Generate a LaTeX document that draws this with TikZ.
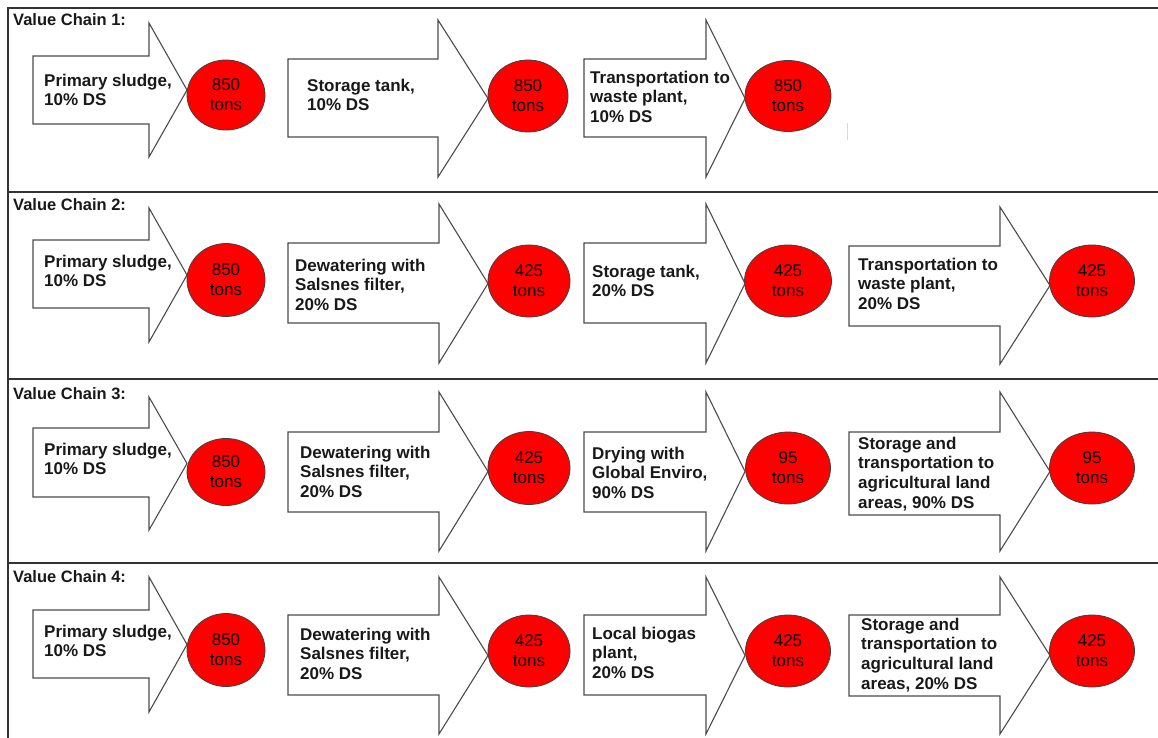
\documentclass[tikz,border=0pt]{standalone}
\usepackage{fontspec}
\setmainfont{Liberation Sans}
\usetikzlibrary{shapes.geometric}
% big outlined block arrow: x0, body top, body bottom, head x, head top, head bottom, tip x
\newcommand\flowarrow[7]{%
  \draw[arrowshape] (#1,#2) -- (#4,#2) -- (#4,#5) -- (#7,{(#5+#6)/2}) -- (#4,#6) -- (#4,#3) -- (#1,#3) -- cycle;}
\begin{document}
\begin{tikzpicture}[x=1pt,y=-1pt,
  frame/.style={line width=2pt, draw=black!80},
  arrowshape/.style={draw=black!70, line width=1.1pt, fill=white, line join=miter},
  lbl/.style={anchor=north west, inner sep=0pt, align=left, text=black!90,
    font=\bfseries\fontsize{17}{19.7}\selectfont},
  hdr/.style={anchor=base west, inner sep=0pt, text=black!90,
    font=\bfseries\fontsize{16.5}{19}\selectfont},
  tons/.style={ellipse, draw=black!75, line width=0.8pt, fill=red, inner sep=0pt,
    align=center, font=\fontsize{17}{20}\selectfont}]
\useasboundingbox (0,0) rectangle (1158,738);
\fill[white] (0,0) rectangle (1158,738);

% frame
\draw[frame] (8,738) -- (8,8) -- (1158,8);
\draw[frame] (8,192) -- (1158,192);
\draw[frame] (8,379) -- (1158,379);
\draw[frame] (8,563) -- (1158,563);
\draw[black!15, line width=1pt] (847,123) -- (847,140);

% headers
\node[hdr] (h1) at (13,26) {Value Chain 1:};
\node[hdr] (h2) at (13,210) {Value Chain 2:};
\node[hdr] (h3) at (13,399) {Value Chain 3:};
\node[hdr] (h4) at (13,582) {Value Chain 4:};

% ---------- row 1
\flowarrow{33}{56}{124}{149}{23}{157}{187}
\flowarrow{288}{59}{137}{438}{20}{177}{488}
\flowarrow{584}{59}{137}{706}{20}{177}{745}
\node[lbl] (t11) at (44,73.5) {Primary sludge,\\10\% DS};
\node[lbl] (t12) at (307,78.5) {Storage tank,\\10\% DS};
\node[lbl] (t13) at (590,70.5) {Transportation to\\waste plant,\\10\% DS};
\node[tons, minimum width=78pt, minimum height=70pt] (c11) at (226,95) {850\\tons};
\node[tons, minimum width=80pt, minimum height=72pt] (c12) at (528,96) {850\\tons};
\node[tons, minimum width=86pt, minimum height=71pt] (c13) at (788,96) {850\\tons};

% ---------- row 2
\flowarrow{33}{240}{308}{149}{208}{342}{187}
\flowarrow{288}{243}{323}{439}{204}{363}{488}
\flowarrow{584}{243}{323}{706}{204}{363}{745}
\flowarrow{849}{246}{326}{1000}{207}{364}{1050}
\node[lbl] (t21) at (44,254.5) {Primary sludge,\\10\% DS};
\node[lbl] (t22) at (295,258.5) {Dewatering with\\Salsnes filter,\\20\% DS};
\node[lbl] (t23) at (592,264.5) {Storage tank,\\20\% DS};
\node[lbl] (t24) at (858,257.5) {Transportation to\\waste plant,\\20\% DS};
\node[tons, minimum width=78pt, minimum height=73pt] (c21) at (226,280) {850\\tons};
\node[tons, minimum width=82pt, minimum height=72pt] (c22) at (529,281) {425\\tons};
\node[tons, minimum width=87pt, minimum height=72pt] (c23) at (788,281) {425\\tons};
\node[tons, minimum width=85pt, minimum height=72pt] (c24) at (1092,281) {425\\tons};

% ---------- row 3
\flowarrow{33}{428}{497}{149}{397}{530}{187}
\flowarrow{288}{432}{512}{439}{392}{551}{488}
\flowarrow{584}{432}{512}{706}{392}{551}{745}
\flowarrow{849}{432}{515}{1000}{392}{551}{1050}
\node[lbl] (t31) at (44,442.5) {Primary sludge,\\10\% DS};
\node[lbl] (t32) at (300,445.5) {Dewatering with\\Salsnes filter,\\20\% DS};
\node[lbl] (t33) at (592,446.5) {Drying with\\Global Enviro,\\90\% DS};
\node[lbl] (t34) at (858,436.5) {Storage and\\transportation to\\agricultural land\\areas, 90\% DS};
\node[tons, minimum width=78pt, minimum height=67pt] (c31) at (226,472) {850\\tons};
\node[tons, minimum width=82pt, minimum height=73pt] (c32) at (529,468) {425\\tons};
\node[tons, minimum width=85pt, minimum height=72pt] (c33) at (788,468) {95\\tons};
\node[tons, minimum width=85pt, minimum height=72pt] (c34) at (1092,468) {95\\tons};

% ---------- row 4
\flowarrow{33}{610}{678}{149}{577}{712}{187}
\flowarrow{288}{615}{695}{439}{577}{734}{488}
\flowarrow{584}{615}{695}{706}{577}{734}{745}
\flowarrow{849}{615}{696}{1000}{577}{734}{1050}
\node[lbl] (t41) at (44,624.5) {Primary sludge,\\10\% DS};
\node[lbl] (t42) at (300,627.5) {Dewatering with\\Salsnes filter,\\20\% DS};
\node[lbl] (t43) at (592,626.5) {Local biogas\\plant,\\20\% DS};
\node[lbl] (t44) at (861,617.5) {Storage and\\transportation to\\agricultural land\\areas, 20\% DS};
\node[tons, minimum width=78pt, minimum height=73pt] (c41) at (226,650) {850\\tons};
\node[tons, minimum width=82pt, minimum height=72pt] (c42) at (529,651) {425\\tons};
\node[tons, minimum width=85pt, minimum height=72pt] (c43) at (788,651) {425\\tons};
\node[tons, minimum width=85pt, minimum height=72pt] (c44) at (1092,651) {425\\tons};
\end{tikzpicture}
\end{document}
